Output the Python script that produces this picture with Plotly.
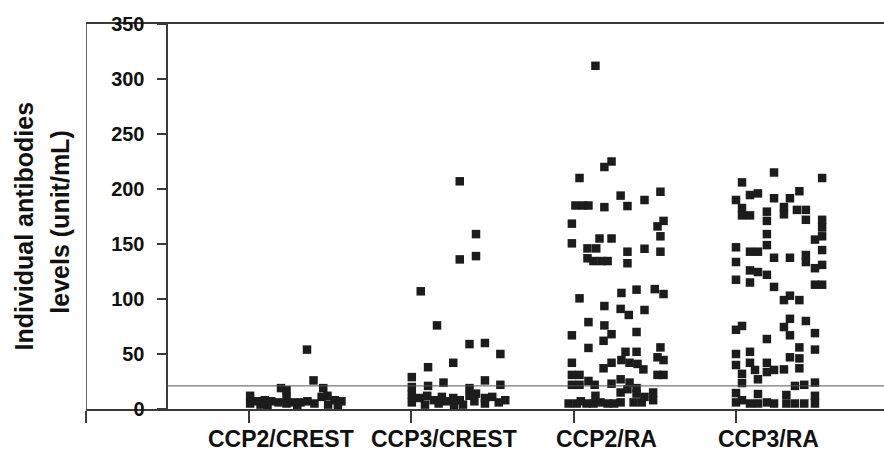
import plotly.graph_objects as go

# ---------------- data ----------------
categories = ["CCP2/CREST", "CCP3/CREST", "CCP2/RA", "CCP3/RA"]
category_pos = [1, 2, 3, 4]
y_ticks = [0, 50, 100, 150, 200, 250, 300, 350]
cutoff = 21

ccp2_crest_vals = [54, 26, 19, 19, 12, 5, 7, 8, 7, 6, 4, 17, 11, 5, 6, 6, 7, 5, 11, 12, 8, 7, 4, 3, 3, 3]
ccp2_crest_jit = [0.36, 0.40, 0.20, 0.46, 0.01, 0.01, 0.055, 0.10, 0.14, 0.185, 0.074, 0.234, 0.234, 0.234,
                  0.277, 0.32, 0.363, 0.406, 0.45, 0.486, 0.53, 0.572, 0.49, 0.117, 0.30, 0.55]

ccp3_crest_vals = [207, 159, 136, 139, 107, 76, 59, 60, 50, 42, 38, 29, 20, 13, 21, 24, 19, 26, 22, 6, 10, 12,
                   8, 11, 4, 5, 7, 10, 8, 3, 4, 12, 14, 7, 10, 5, 11, 6, 8]
ccp3_crest_jit = [0.30, 0.40, 0.30, 0.40, 0.06, 0.16, 0.36, 0.455, 0.55, 0.26, 0.105, 0.005, 0.005, 0.005,
                  0.105, 0.20, 0.36, 0.455, 0.55, 0.005, 0.055, 0.10, 0.14, 0.19, 0.086, 0.17, 0.215, 0.26,
                  0.30, 0.265, 0.32, 0.36, 0.40, 0.39, 0.455, 0.455, 0.50, 0.54, 0.58]

ccp2_ra_vals = [312, 225, 220, 210, 197.5, 194, 190, 185, 185, 185, 183.5, 184.5, 168.5, 166, 171, 157, 155, 155,
                150.6, 146, 146, 137, 134.5, 134.5, 134.5, 143, 145.7, 143, 132.5, 105.5, 108.5, 109, 104.5,
                100.6, 93.6, 91, 85.5, 90, 79, 76, 67, 68, 62, 70, 55.5, 52, 52, 56, 47, 44.5, 44.5, 42, 42,
                37, 42, 41, 36, 31, 31, 31, 31, 22, 22, 25.5, 22, 23, 27, 24, 18, 19, 14, 8, 15, 15, 6, 12,
                5, 5, 7, 5, 5, 6, 5, 5, 6, 6, 11]
ccp2_ra_jit = [0.135, 0.234, 0.19, 0.037, 0.535, 0.29, 0.437, 0.012, 0.06, 0.092, 0.19, 0.332, -0.01, 0.517,
               0.554, 0.535, 0.16, 0.234, -0.01, 0.086, 0.14, 0.086, 0.123, 0.172, 0.21, 0.332, 0.437, 0.535,
               0.332, 0.295, 0.388, 0.50, 0.554, 0.037, 0.19, 0.29, 0.34, 0.437, 0.092, 0.19, -0.01, 0.234,
               0.185, 0.388, 0.092, 0.32, 0.388, 0.535, 0.517, 0.554, 0.295, 0.345, -0.01, 0.185, 0.234,
               0.394, 0.43, 0.517, 0.554, -0.01, 0.037, -0.01, 0.037, 0.092, 0.13, 0.234, 0.29, 0.345,
               0.332, 0.388, 0.388, 0.49, 0.49, 0.29, 0.29, 0.135, -0.03, 0.02, 0.045, 0.08, 0.123, 0.166,
               0.21, 0.25, 0.37, 0.42, 0.437]

ccp3_ra_vals = [215, 210, 206, 198, 196, 194.5, 190, 191.6, 191.6, 183.6, 177, 182.7, 176, 176, 179.4, 181, 181,
                172, 172, 165, 157, 171, 159, 149, 147, 143, 143, 154, 144.5, 137.5, 137.5, 140, 133.6, 133.6,
                128, 131, 126, 124.5, 122, 117.5, 115, 111, 113, 113, 99, 103, 99, 82, 80, 72, 75.5, 74.5, 67,
                69, 63.6, 56, 54, 50, 52, 47, 46, 40, 42, 42, 35.5, 33.6, 35.5, 36, 37, 32, 27, 23.6, 21, 22,
                24, 14.5, 13.6, 6, 8, 5, 5, 6, 5, 12.7, 5, 5, 5, 12, 5]
ccp3_ra_jit = [0.234, 0.53, 0.037, 0.39, 0.135, 0.086, 0.0, 0.234, 0.332, 0.295, 0.295, 0.037, 0.037, 0.086,
               0.19, 0.375, 0.43, 0.43, 0.53, 0.53, 0.53, 0.19, 0.19, 0.19, 0.0, 0.086, 0.135, 0.486, 0.53,
               0.234, 0.332, 0.43, 0.43, 0.0, 0.486, 0.53, 0.086, 0.135, 0.19, 0.0, 0.086, 0.234, 0.486, 0.53,
               0.295, 0.332, 0.39, 0.332, 0.43, 0.0, 0.037, 0.295, 0.332, 0.486, 0.19, 0.39, 0.486, 0.0,
               0.086, 0.332, 0.39, 0.0, 0.086, 0.19, 0.117, 0.19, 0.234, 0.295, 0.39, 0.037, 0.135, 0.037,
               0.363, 0.42, 0.486, 0.0, 0.135, 0.0, 0.037, 0.086, 0.135, 0.19, 0.234, 0.31, 0.31, 0.363,
               0.42, 0.486, 0.486]

series_vals = [ccp2_crest_vals, ccp3_crest_vals, ccp2_ra_vals, ccp3_ra_vals]
series_jit = [ccp2_crest_jit, ccp3_crest_jit, ccp2_ra_jit, ccp3_ra_jit]

# ---------------- figure ----------------
W, H = 884, 451
ML, MR, MT, MB = 86, 0, 24, 42
XMAX = (W - ML - MR) / 162.5
font_fam = "Liberation Sans, Arial, sans-serif"
axis_col = "#3a3a3a"

fig = go.Figure()
for pos, vals, jit in zip(category_pos, series_vals, series_jit):
    fig.add_trace(go.Scatter(
        x=[pos + j for j in jit], y=vals, mode="markers",
        marker=dict(symbol="square", size=8.5, color="#1c1c1c", line=dict(width=0)),
        showlegend=False, hoverinfo="y", cliponaxis=False))

fig.update_layout(
    width=W, height=H, margin=dict(l=ML, r=MR, t=MT, b=MB, autoexpand=False),
    paper_bgcolor="white", plot_bgcolor="white",
    xaxis=dict(range=[0, XMAX], showgrid=False, zeroline=False, automargin=False,
               showline=True, linecolor=axis_col, linewidth=1.5, mirror=True,
               tickmode="array", tickvals=[0] + category_pos, ticks="outside",
               ticklen=12, tickwidth=1.5, tickcolor=axis_col, showticklabels=False),
    yaxis=dict(range=[0, 350], showgrid=False, zeroline=False, automargin=False,
               anchor="free", position=(0.5 / XMAX),
               showline=True, linecolor=axis_col, linewidth=1.5,
               tickmode="array", tickvals=y_ticks, ticks="outside", ticklen=10,
               tickwidth=1.5, tickcolor=axis_col, ticklabelstandoff=8,
               tickfont=dict(family=font_fam, size=20, color="#111", weight="bold")),
)

# left frame line
fig.add_shape(type="line", xref="x", yref="paper", x0=0, x1=0, y0=0, y1=1,
              line=dict(color=axis_col, width=1.5))
# cut-off line
fig.add_shape(type="line", xref="x", yref="y", x0=0.5, x1=XMAX, y0=cutoff, y1=cutoff,
              line=dict(color="#555", width=1))

# category labels
for pos, name in zip(category_pos, categories):
    fig.add_annotation(x=pos + 0.2, xref="x", y=-0.078, yref="paper", text=f"<b>{name}</b>",
                       showarrow=False, xanchor="center", yanchor="middle",
                       font=dict(family=font_fam, size=23, color="#111"))

# y-axis title (two lines)
fig.add_annotation(x=(24 - ML) / (W - ML), xref="paper", y=0.474, yref="paper",
                   text="<b>Individual antibodies</b>", textangle=-90, showarrow=False,
                   xanchor="center", yanchor="middle",
                   font=dict(family=font_fam, size=25, color="#111"))
fig.add_annotation(x=(60 - ML) / (W - ML), xref="paper", y=0.484, yref="paper",
                   text="<b>levels (unit/mL)</b>", textangle=-90, showarrow=False,
                   xanchor="center", yanchor="middle",
                   font=dict(family=font_fam, size=25, color="#111"))

fig.write_html("out.html", config={"displayModeBar": False},
               post_script="document.body.style.margin='0';document.body.style.padding='0';document.body.style.overflow='hidden';")
